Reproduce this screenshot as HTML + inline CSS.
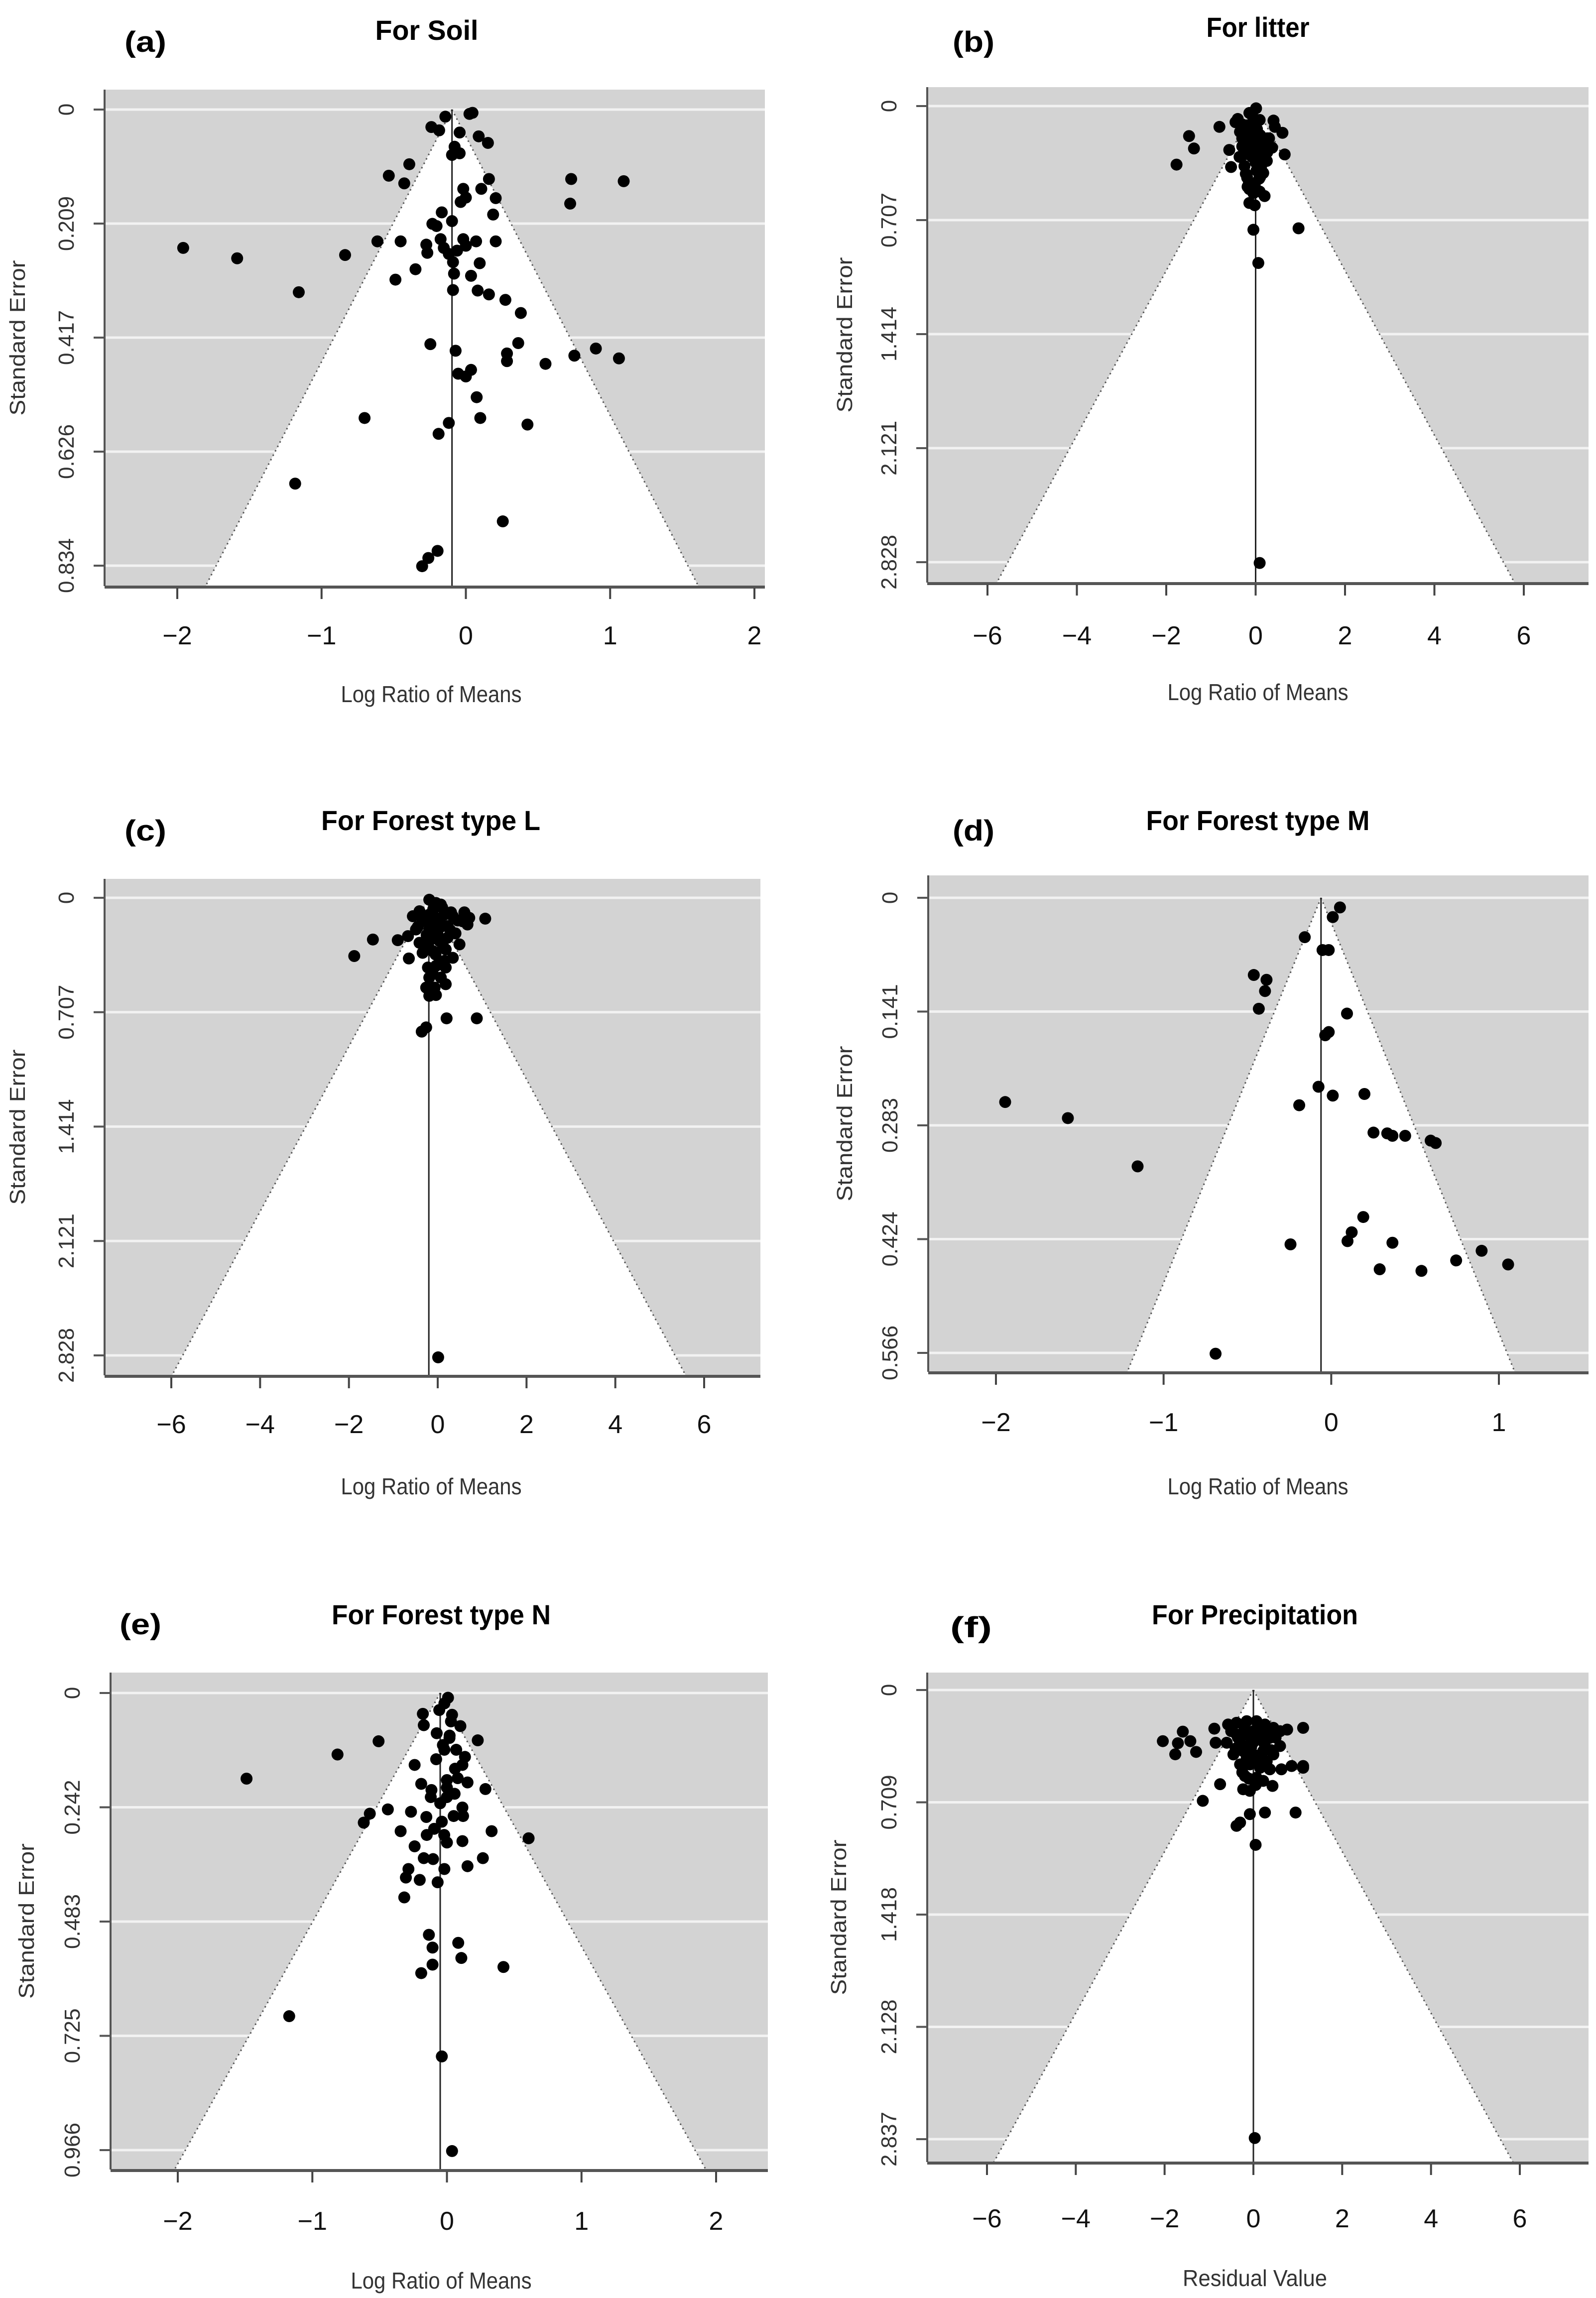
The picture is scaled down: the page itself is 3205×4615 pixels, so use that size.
<!DOCTYPE html>
<html><head><meta charset="utf-8">
<style>
html,body{margin:0;padding:0;background:#fff;}
svg{display:block;}
text{font-family:"Liberation Sans",sans-serif;}
</style></head>
<body>
<svg id="fig" width="3205" height="4615" viewBox="0 0 3205 4615" xmlns="http://www.w3.org/2000/svg"></svg>
<script>
// ---- data (log ratio of means / residual, standard error) ----
const soilX = [-0.142,0.025,0.046,-0.239,-0.185,-0.043,0.089,0.153,-0.078,-0.096,-0.043,-0.392,-0.534,-0.427,0.160,0.730,0.723,1.094,-0.018,0.107,0,-0.036,0.207,0.189,-0.167,-0.096,-0.232,-0.203,-1.959,-1.585,-0.837,-0.613,-0.452,-0.274,-0.267,-0.175,-0.153,-0.118,-0.061,-0.018,0,0.071,0.207,-0.089,0.096,-0.349,-0.082,0.036,-0.488,-1.158,-0.089,0.082,0.160,0.274,0.381,-0.246,-0.071,0.363,0.285,0.285,0.552,0.752,0.901,1.061,-0.053,0,0.036,0.075,-0.702,0.100,0.427,-0.118,-0.189,-1.183,0.256,-0.196,-0.260,-0.303];
const soilSE = [0.013,0.008,0.006,0.032,0.038,0.042,0.049,0.061,0.068,0.083,0.080,0.100,0.121,0.135,0.127,0.127,0.172,0.131,0.145,0.145,0.161,0.169,0.162,0.192,0.188,0.204,0.209,0.213,0.253,0.272,0.266,0.241,0.241,0.247,0.262,0.237,0.253,0.264,0.258,0.237,0.249,0.241,0.241,0.279,0.281,0.292,0.300,0.304,0.311,0.334,0.330,0.331,0.338,0.348,0.372,0.429,0.441,0.427,0.446,0.460,0.465,0.450,0.437,0.455,0.483,0.488,0.476,0.526,0.564,0.564,0.576,0.573,0.593,0.684,0.753,0.807,0.820,0.835];

const litterX = [0.01,-0.14,-0.81,-0.45,-0.30,-1.49,-1.38,-1.77,-0.59,-0.55,0.60,0.65,0.43,0.26,0.09,-0.19,-0.25,-0.02,0.15,-0.25,-0.19,0.17,-0.02,0.09,0.20,-0.14,-0.02,-0.05,0.96,0.06,0.09,-0.08,0.03,-0.30,0.37,-0.08,0.03,-0.36,-0.14,0.26,-0.40,0.40,0.0,-0.10,0.12,-0.20,-0.05,0.10,0.22,-0.30,-0.12,0.05,0.18,-0.22,0.00,0.12,-0.15,0.08,-0.05,0.30,-0.35,0.15,-0.10,0.02,0.25,-0.25,0.06,-0.18,0.10];
const litterSE = [0.014,0.043,0.129,0.100,0.114,0.186,0.263,0.363,0.272,0.378,0.166,0.300,0.129,0.200,0.086,0.172,0.258,0.286,0.343,0.372,0.444,0.415,0.487,0.530,0.558,0.601,0.615,0.767,0.758,0.973,2.833,0.057,0.143,0.200,0.258,0.315,0.229,0.315,0.515,0.286,0.080,0.090,0.100,0.230,0.400,0.120,0.160,0.180,0.240,0.250,0.300,0.330,0.290,0.420,0.350,0.380,0.470,0.450,0.540,0.200,0.160,0.260,0.210,0.400,0.340,0.300,0.190,0.500,0.440];

const typeLX = [-1.88,-1.46,-0.90,-0.65,-0.67,-0.56,-0.19,-0.04,0.07,-0.41,-0.34,-0.19,-0.04,0.15,0.34,0.56,0.71,0.67,1.07,-0.49,-0.19,0.04,0.22,0.49,-0.41,-0.19,0.04,0.22,-0.34,-0.11,0.18,0.34,-0.22,-0.04,0.18,-0.19,0.07,0.18,-0.26,-0.07,-0.19,-0.04,0.20,0.88,-0.26,-0.36,0.01,-0.10,0.10,-0.30,0.28,-0.15,0.05,0.40,-0.45,0.12,-0.05,0.30,-0.25,0.00,0.15,-0.12,0.08,0.45,-0.20,0.60];
const typeLSE = [0.360,0.258,0.262,0.375,0.237,0.114,0.012,0.032,0.042,0.083,0.145,0.104,0.124,0.104,0.114,0.145,0.124,0.165,0.129,0.196,0.196,0.186,0.175,0.288,0.278,0.267,0.267,0.247,0.340,0.329,0.319,0.371,0.431,0.421,0.431,0.493,0.493,0.534,0.555,0.555,0.606,0.601,0.745,0.745,0.801,0.827,2.840,0.070,0.060,0.120,0.200,0.160,0.150,0.220,0.180,0.300,0.350,0.090,0.230,0.230,0.390,0.460,0.410,0.140,0.310,0.090];

const typeMX = [0.052,0.009,-0.158,-0.052,-0.015,-0.462,-0.386,-0.395,-0.432,0.094,-0.036,-0.015,-0.076,0.009,0.198,-0.191,-1.945,-1.571,-1.155,0.252,0.334,0.365,0.441,0.593,0.623,0.191,0.122,0.097,-0.243,0.365,0.897,0.745,1.055,0.289,0.538,-0.690];
const typeMSE = [0.012,0.024,0.049,0.065,0.065,0.096,0.102,0.116,0.138,0.144,0.171,0.167,0.235,0.246,0.244,0.258,0.254,0.274,0.334,0.292,0.293,0.296,0.296,0.302,0.305,0.397,0.416,0.427,0.431,0.429,0.439,0.451,0.456,0.462,0.464,0.567];

const typeNX = [0.008,-0.019,-0.057,-0.179,-0.172,0.038,-0.076,0.229,-0.508,0.019,-0.019,0.069,-0.813,0.134,-0.240,0.115,-1.489,-0.191,-0.115,0,0.153,0.286,0.057,-0.050,-0.267,-0.439,-0.573,-0.618,-0.153,-0.038,0.115,-0.344,-0.095,0.332,0.607,0,0.115,-0.240,-0.172,-0.103,0.267,0.153,-0.286,-0.019,-0.202,-0.069,-0.305,-0.317,-0.134,-0.107,0.084,0.107,-0.107,0.420,-0.191,-1.172,-0.038,0.038,0.03,-0.03,0.06,0.0,-0.08,0.02,0.10,-0.12,0.05,-0.02,0.08,-0.15,0.00,0.12];
const typeNSE = [0.010,0.022,0.036,0.044,0.068,0.046,0.085,0.100,0.102,0.095,0.120,0.120,0.130,0.135,0.152,0.152,0.181,0.192,0.205,0.184,0.189,0.203,0.213,0.233,0.251,0.246,0.255,0.274,0.262,0.272,0.242,0.292,0.287,0.292,0.307,0.316,0.313,0.324,0.349,0.351,0.349,0.366,0.372,0.372,0.395,0.400,0.390,0.432,0.511,0.538,0.528,0.560,0.574,0.579,0.592,0.683,0.768,0.968,0.06,0.11,0.16,0.22,0.140,0.090,0.070,0.220,0.260,0.300,0.180,0.300,0.200,0.260];

const precipX = [-2.04,-1.76,-1.70,-1.59,-1.42,-1.29,-0.88,-0.85,-0.75,-1.14,-0.57,-0.38,-0.15,0.07,0.26,0.45,0.60,0.76,1.12,-0.60,-0.38,-0.15,0.11,0.37,0.60,-0.45,-0.23,0,0.22,0.45,-0.30,-0.08,0.15,0.37,0.63,0.86,1.12,-0.19,0.07,0.22,-0.23,-0.08,0.43,-0.08,-0.30,-0.38,0.26,0.95,0.05,0.03,1.12,0.0,-0.30,-0.10,0.20,-0.50,-0.20,0.10,0.35,-0.40,-0.05,0.25,0.50,-0.15,0.15,-0.35,0.30,0.0,-0.25,0.40,0.05,-0.10,0.20];
const precipSE = [0.323,0.406,0.336,0.263,0.323,0.391,0.244,0.333,0.595,0.700,0.218,0.207,0.197,0.197,0.218,0.239,0.260,0.250,0.239,0.333,0.281,0.281,0.302,0.302,0.354,0.407,0.386,0.407,0.386,0.407,0.470,0.470,0.491,0.501,0.501,0.480,0.491,0.543,0.554,0.574,0.627,0.637,0.606,0.784,0.837,0.858,0.774,0.774,0.978,2.830,0.480,0.330,0.330,0.350,0.300,0.260,0.240,0.250,0.270,0.370,0.360,0.340,0.300,0.430,0.440,0.300,0.450,0.260,0.520,0.380,0.600,0.560,0.470];

// ---- tick labels ----
const ticksSoilY = ["0","0.209","0.417","0.626","0.834"];
const ticksLitterY = ["0","0.707","1.414","2.121","2.828"];
const ticksMY = ["0","0.141","0.283","0.424","0.566"];
const ticksNY = ["0","0.242","0.483","0.725","0.966"];
const ticksPrecipY = ["0","0.709","1.418","2.128","2.837"];
const ticksX2 = [-2,-1,0,1,2];
const ticksX6 = [-6,-4,-2,0,2,4,6];
const ticksXM = [-2,-1,0,1];

// ---- panel layout (geometry only) ----
const panels = [
 {id:"a",letter:"(a)",title:"For Soil",tw:207,lx:292,tx:857,ty:60,ly:84,xs:soilX,ys:soilSE,center:-0.096,
  L:210,R:1536,T:180,B:1177,y0:220,y1:1136,ymax:0.834,yt:ticksSoilY,xt:ticksX2,xa:-2,xb:2,pa:356,pb:1515,
  xtitle:"Log Ratio of Means",xtx:866,xty:1394,ytx:35,tly:1276},
 {id:"b",letter:"(b)",title:"For litter",tw:207,lx:1955,tx:2526,ty:54,ly:84,xs:litterX,ys:litterSE,center:0,
  L:1862,R:3190,T:175,B:1170,y0:213,y1:1129,ymax:2.828,yt:ticksLitterY,xt:ticksX6,xa:-6,xb:6,pa:1983,pb:3060,
  xtitle:"Log Ratio of Means",xtx:2526,xty:1390,ytx:1696,tly:1276},
 {id:"c",letter:"(c)",title:"For Forest  type L",tw:440,lx:292,tx:865,ty:1647,ly:1668,xs:typeLX,ys:typeLSE,center:-0.2,
  L:210,R:1527,T:1765,B:2762,y0:1803,y1:2722,ymax:2.828,yt:ticksLitterY,xt:ticksX6,xa:-6,xb:6,pa:344,pb:1414,
  xtitle:"Log Ratio of Means",xtx:866,xty:2985,ytx:35,tly:2860},
 {id:"d",letter:"(d)",title:"For Forest  type M",tw:449,lx:1955,tx:2526,ty:1647,ly:1668,xs:typeMX,ys:typeMSE,center:-0.061,
  L:1864,R:3190,T:1758,B:2755,y0:1803,y1:2717,ymax:0.566,yt:ticksMY,xt:ticksXM,xa:-2,xb:1,pa:2000,pb:3010,
  xtitle:"Log Ratio of Means",xtx:2526,xty:2985,ytx:1696,tly:2856},
 {id:"e",letter:"(e)",title:"For Forest  type N",tw:440,lx:282,tx:886,ty:3242,ly:3262,xs:typeNX,ys:typeNSE,center:-0.05,
  L:222,R:1542,T:3359,B:4357,y0:3400,y1:4318,ymax:0.966,yt:ticksNY,xt:ticksX2,xa:-2,xb:2,pa:357,pb:1438,
  xtitle:"Log Ratio of Means",xtx:886,xty:4580,ytx:53,tly:4460},
 {id:"f",letter:"(f)",title:"For Precipitation",tw:414,lx:1950,tx:2520,ty:3242,ly:3268,xs:precipX,ys:precipSE,center:0,
  L:1862,R:3190,T:3359,B:4342,y0:3394,y1:4296,ymax:2.837,yt:ticksPrecipY,xt:ticksX6,xa:-6,xb:6,pa:1982,pb:3052,
  xtitle:"Residual Value",xtx:2520,xty:4575,ytx:1684,tly:4455}
];

const NS="http://www.w3.org/2000/svg";
const svg=document.getElementById('fig');
function mk(tag,attrs,parent){const e=document.createElementNS(NS,tag);for(const k in attrs)e.setAttribute(k,attrs[k]);(parent||svg).appendChild(e);return e;}

panels.forEach(p=>{
  const g=mk('g',{});
  
  
  const sx=v=>p.pa+(v-p.xa)*(p.pb-p.pa)/(p.xb-p.xa);
  const sy=v=>p.y0+v*(p.y1-p.y0)/p.ymax;
  const bg=mk('rect',{x:p.L,y:p.T,width:p.R-p.L,height:p.B-p.T,fill:'#d3d3d3'},g);
  
  
  p.yt.forEach((t,i)=>{
    const yv=p.ymax*i/(p.yt.length-1);
    const gl=mk('line',{x1:p.L,x2:p.R,y1:sy(yv),y2:sy(yv),stroke:'#f2f2f2','stroke-width':5},g);
    
    
  });
  const seB=(p.B-p.y0)*p.ymax/(p.y1-p.y0);
  const hw=1.96*seB;
  const ax=sx(p.center),ay=sy(0);
  const fl=sx(p.center-hw),fr=sx(p.center+hw);
  const fun=mk('polygon',{points:`${ax},${ay} ${fl},${p.B} ${fr},${p.B}`,fill:'#ffffff'},g);
  
  
  [fl,fr].forEach(q=>{
    const el=mk('line',{x1:ax,y1:ay,x2:q,y2:p.B,stroke:'#555','stroke-width':3,'stroke-dasharray':'3 7'},g);
    
    
  });
  const cl=mk('line',{x1:ax,y1:ay,x2:ax,y2:p.B,stroke:'#222','stroke-width':3},g);
  
  
  p.xs.forEach((xv,i)=>{
    const c=mk('circle',{cx:sx(xv),cy:sy(p.ys[i]),r:12,fill:'#000'},g);
    
    
  });
  const ya=mk('line',{x1:p.L,x2:p.L,y1:p.T,y2:p.B,stroke:'#555','stroke-width':4},g);
  
  
  const xa=mk('line',{x1:p.L,x2:p.R,y1:p.B+2,y2:p.B+2,stroke:'#555','stroke-width':6},g);
  
  
  p.yt.forEach((t,i)=>{
    const yv=p.ymax*i/(p.yt.length-1);const y=sy(yv);
    const tk=mk('line',{x1:p.L-22,x2:p.L,y1:y,y2:y,stroke:'#555','stroke-width':4},g);
    
    
    const tx=mk('text',{x:0,y:0,transform:`translate(${p.L-62},${y}) rotate(-90)`,'text-anchor':'middle','font-size':44,fill:'#333'},g);
    tx.textContent=t;
    
    
  });
  p.xt.forEach(v=>{
    const x=sx(v);
    const tk=mk('line',{x1:x,x2:x,y1:p.B+4,y2:p.B+26,stroke:'#444','stroke-width':4},g);
    
    
    const tx=mk('text',{x:x,y:p.tly+18,'text-anchor':'middle','font-size':52,fill:'#111'},g);
    tx.textContent=(v<0?'\u2212'+Math.abs(v):String(v));
    
    
  });
  const tt=mk('text',{x:p.tx,y:p.ty+20,'text-anchor':'middle','font-size':56,'font-weight':'bold',fill:'#000',textLength:p.tw,lengthAdjust:'spacingAndGlyphs'},g);
  tt.textContent=p.title;
  
  
  const lt=mk('text',{x:p.lx,y:p.ly+20,'text-anchor':'middle','font-size':58,'font-weight':'bold',fill:'#000',textLength:84,lengthAdjust:'spacingAndGlyphs'},g);
  lt.textContent=p.letter;
  
  
  const xt=mk('text',{x:p.xtx,y:p.xty+16,'text-anchor':'middle','font-size':46,fill:'#333',textLength:p.xtitle.length>15?363:290,lengthAdjust:'spacingAndGlyphs'},g);
  xt.textContent=p.xtitle;
  
  
  const ym=(p.T+p.B)/2;
  const yt=mk('text',{x:0,y:0,transform:`translate(${p.ytx+15},${ym}) rotate(-90)`,'text-anchor':'middle','font-size':44,fill:'#333',textLength:312,lengthAdjust:'spacingAndGlyphs'},g);
  yt.textContent='Standard Error';
  
  
});
</script>
</body></html>
